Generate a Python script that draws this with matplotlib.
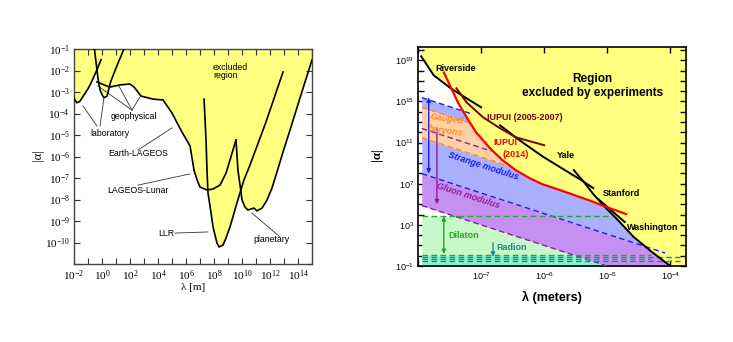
import numpy as np
import matplotlib
matplotlib.use("Agg")
import matplotlib.pyplot as plt
from matplotlib.ticker import LogLocator, NullFormatter

# ==================================================
# LEFT PANEL DATA  (log10 lambda [m], log10 |alpha|)
# ==================================================

lab1_x = [-2.0, -1.8, -1.6, -1.3, -1.0, -0.8, -0.43, -0.07]
lab1_y = [-3.3, -3.5, -3.45, -3.15, -2.85, -2.6, -2.07, -1.5]
lab2_x = [-0.55, -0.29, -0.14, 0.02, 0.14, 0.36, 0.62, 1.09, 1.6]
lab2_y = [-0.95, -2.36, -2.91, -3.14, -3.27, -3.19, -2.52, -1.74, -0.95]
geo_x = [-0.36, 0.14, 0.57, 1.29, 2.0, 2.29, 2.79, 3.64, 4.36]
geo_y = [-2.53, -2.67, -2.77, -2.67, -2.63, -2.77, -3.19, -3.33, -3.37]
earth_x = [4.36, 5.0, 5.71, 6.29, 6.43, 6.57]
earth_y = [-3.37, -3.98, -4.86, -5.51, -6.07, -6.63]
lunar_x = [6.57, 6.79, 7.0, 7.5, 7.93, 8.43, 8.86, 9.21, 9.57]
lunar_y = [-6.63, -7.09, -7.42, -7.56, -7.51, -7.33, -6.77, -6.02, -5.23]
planet_x = [9.57, 9.71, 9.86, 10.0, 10.21, 10.43, 10.64, 10.86, 11.07,
            11.43, 11.79, 12.14, 12.5, 12.93, 13.43, 14.14, 15.0]
planet_y = [-5.23, -6.63, -7.33, -8.02, -8.35, -8.49, -8.44, -8.40, -8.53,
            -8.40, -8.02, -7.47, -6.72, -5.79, -4.77, -3.28, -1.51]
llr_x = [7.29, 7.43, 7.5, 7.57, 7.79, 7.93, 8.21, 8.36, 8.64, 8.86, 9.14,
         9.64, 10.14, 10.57, 11.71, 12.93]
llr_y = [-3.33, -5.23, -6.63, -7.70, -8.63, -9.28, -10.02, -10.21, -10.12,
         -9.79, -9.28, -8.16, -7.09, -6.40, -4.40, -2.07]

left_labels = ["laboratory", "geophysical", "Earth-LAGEOS", "LAGEOS-Lunar", "LLR", "planetary"]
left_label_x = [0.57, 2.29, 2.57, 2.57, 4.57, 12.07]
left_label_y = [-4.91, -4.12, -5.88, -7.6, -9.56, -9.88]

# pointer segments: x0, y0, x1, y1
left_pointers = [
    (-0.36, -4.58, -1.36, -3.65), (-0.14, -4.58, 0.14, -3.28),
    (2.14, -3.84, -0.29, -2.72), (2.14, -3.84, 1.21, -2.72), (2.14, -3.84, 2.71, -3.23),
    (2.57, -5.70, 5.0, -4.67),
    (2.57, -7.33, 6.29, -6.81),
    (5.21, -9.56, 7.57, -9.51),
    (12.71, -9.74, 10.71, -8.63),
]

left_xtick_exps = list(range(-2, 16))
left_xlabel_exps = list(range(-2, 15, 2))
left_ytick_exps = list(range(-11, 0))
left_ylabel_exps = list(range(-10, 0))

# ==================================================
# RIGHT PANEL DATA  (log10 lambda [m], log10 |alpha|)
# ==================================================

river_x = [-7.95, -7.75, -7.48, -7.23, -7.0]
river_y = [19.4, 17.54, 16.28, 15.31, 14.44]
iupui07_x = [-7.39, -7.23, -6.97, -6.70, -6.45, -6.0]
iupui07_y = [16.28, 14.92, 13.47, 12.40, 11.52, 10.75]
iupui14_x = [-7.59, -7.48, -7.36, -7.23, -7.08, -6.86, -6.66, -6.45, -6.23,
             -6.03, -5.77, -5.52, -5.25, -5.05, -4.70]
iupui14_y = [17.83, 16.38, 14.83, 13.47, 12.01, 10.46, 9.29, 8.32, 7.54,
             6.96, 6.43, 5.89, 5.31, 4.83, 4.05]
yale_x = [-6.70, -6.39, -6.03, -5.72, -5.41, -5.22]
yale_y = [12.69, 11.23, 9.68, 8.51, 7.35, 6.57]
wash_x = [-5.53, -5.38, -5.22, -5.05, -4.83, -4.58, -4.31, -4.0, -3.9]
wash_y = [8.32, 7.25, 5.99, 4.83, 3.47, 1.82, 0.46, -1.0, -1.5]
stan_x = [-5.14, -4.72]
stan_y = [5.50, 3.27]

# theory bands: edges given at left and right end of the axis
band_x = [-7.95, -3.75]
blue_top_y = [15.4, 7.0]
blue_bot_y = [8.0, -0.4]
orange_top_y = [14.45, 6.05]
orange_bot_y = [11.5, 3.1]
purple_top_y = [12.4, 4.0]
purple_bot_y = [4.9, -3.5]
dilaton_top = 3.85
radion_top = 0.07
# where each dashed edge stops
blue_top_end = -7.15
blue_bot_end = -4.08
orange_top_end = -7.2
orange_bot_end = -6.6
purple_top_end = -6.84
purple_bot_end = -5.0
# horizontal dashed lines at the bottom: level, end, colour key
low_levels = [0.07, -0.15, -0.35, -0.55]
low_ends = [-4.3, -3.85, -4.3, -3.85]
low_kind = ["green", "teal", "green", "teal"]

right_xtick_exps = [-8, -7, -6, -5, -4]
right_xlabel_exps = [-7, -6, -5, -4]
right_ytick_exps = list(range(-1, 21))
right_ylabel_exps = [-1, 3, 7, 11, 15, 19]

# ==================================================
# HELPERS
# ==================================================

YELLOW = "#ffff80"
SANS = "Liberation Sans"
SERIF = "Liberation Serif"


def envelope(grid, curves, fill_value):
    env = np.full_like(grid, np.inf)
    for cx, cy in curves:
        cx = np.asarray(cx)
        inside = (grid >= cx.min()) & (grid <= cx.max())
        env = np.where(inside, np.minimum(env, np.interp(grid, cx, cy)), env)
    return np.where(np.isinf(env), fill_value, env)


def sci(e):
    return r"$\mathdefault{10^{%d}}$" % e


def p10(v):
    return 10.0 ** np.asarray(v, dtype=float)


fig = plt.figure(figsize=(7.33, 3.42), dpi=100)

# ==================================================
# LEFT PANEL
# ==================================================

ax = fig.add_axes([74 / 733, 78 / 342, 238 / 733, 215 / 342])
ax.set_xscale("log")
ax.set_yscale("log")
ax.set_xlim(1e-2, 1e15)
ax.set_ylim(1e-11, 1e-1)

left_curves = [(lab1_x, lab1_y), (lab2_x, lab2_y), (geo_x, geo_y), (earth_x, earth_y),
               (lunar_x, lunar_y), (planet_x, planet_y), (llr_x, llr_y)]
grid_l = np.linspace(-2, 15, 4000)
env_l = envelope(grid_l, left_curves, -12)
ax.fill_between(p10(grid_l), p10(env_l), 1.0, color=YELLOW, lw=0, zorder=1)

for cx, cy in left_curves:
    ax.plot(p10(cx), p10(cy), color="black", lw=1.2, zorder=3)

for x0, y0, x1, y1 in left_pointers:
    ax.plot(p10([x0, x1]), p10([y0, y1]), color="#333333", lw=0.6, zorder=2)

for lab, lx, ly in zip(left_labels, left_label_x, left_label_y):
    ax.text(10 ** lx, 10 ** ly, lab, ha="center", va="center", fontsize=6.3,
            family=SANS, zorder=4)
ax.text(10 ** 7.93, 10 ** -2.05, "excluded\nregion", ha="left", va="center",
        fontsize=6.3, family=SANS, linespacing=0.95, zorder=4)

ax.set_xticks(p10(left_xtick_exps))
ax.set_xticklabels([sci(e) if e in left_xlabel_exps else "" for e in left_xtick_exps])
ax.set_yticks(p10(left_ytick_exps))
ax.set_yticklabels([sci(e) if e in left_ylabel_exps else "" for e in left_ytick_exps])
ax.xaxis.set_minor_locator(plt.NullLocator())
ax.yaxis.set_minor_locator(plt.NullLocator())
ax.tick_params(direction="in", length=4, width=0.8, top=True, right=True,
               labelsize=8, labelfontfamily=SERIF, pad=3, colors="#333333",
               labelcolor="black")
for s in ax.spines.values():
    s.set_color("#444444")
    s.set_linewidth(1.0)

ax.text(0.5, -0.107, "λ [m]", transform=ax.transAxes, ha="center", va="center",
        fontsize=8, family=SERIF)
ax.text(-0.151, 0.507, "|α|", transform=ax.transAxes, ha="center", va="center",
        rotation=90, fontsize=9, family=SERIF)

# ==================================================
# RIGHT PANEL
# ==================================================

ax2 = fig.add_axes([418 / 733, 76 / 342, 268 / 733, 219 / 342])
ax2.set_xscale("log")
ax2.set_yscale("log")
x0r, x1r = -7.94, -3.75
ax2.set_xlim(10 ** x0r, 10 ** x1r)
ax2.set_ylim(1e-1, 10 ** 20.3)

grid_r = np.linspace(x0r, x1r, 2000)
env_r = envelope(grid_r, [(river_x, river_y), (iupui14_x, iupui14_y), (wash_x, wash_y)], -3)
ax2.fill_between(p10(grid_r), p10(env_r), 1e22, color=YELLOW, lw=0, zorder=1)

bt = np.interp(grid_r, band_x, blue_top_y)
bb = np.interp(grid_r, band_x, blue_bot_y)
ot = np.interp(grid_r, band_x, orange_top_y)
ob = np.interp(grid_r, band_x, orange_bot_y)
pb = np.interp(grid_r, band_x, purple_bot_y)


def band(lo, hi, color):
    top = np.minimum(hi, env_r)
    ax2.fill_between(p10(grid_r), p10(lo), p10(top), where=top > lo,
                     interpolate=True, color=color, lw=0, zorder=2)


band(bb, bt, "#aab0ff")
band(ob, ot, "#ffd2a6")
band(pb, bb, "#c690f2")
band(np.full_like(grid_r, -3), np.minimum(dilaton_top, pb), "#c8f8c8")
band(np.full_like(grid_r, -3), np.minimum(radion_top, pb), "#8ef0d2")

dash = dict(lw=1.0, dashes=(4, 2.5), zorder=3)


def edge(ys, end, color):
    xs = [x0r, end]
    ax2.plot(p10(xs), p10(np.interp(xs, band_x, ys)), color=color, **dash)


edge(blue_top_y, blue_top_end, "#1c1cf0")
edge(blue_bot_y, blue_bot_end, "#1c1cf0")
edge(orange_top_y, orange_top_end, "#ff8c1a")
edge(orange_bot_y, orange_bot_end, "#ff8c1a")
edge(purple_top_y, purple_top_end, "#8a1f9a")
edge(purple_bot_y, purple_bot_end, "#8a1f9a")
ax2.plot(p10([x0r, -4.94]), p10([dilaton_top, dilaton_top]), color="#22aa22", **dash)
low_colors = {"green": "#22aa22", "teal": "#178c8c"}
for lv, en, kd in zip(low_levels, low_ends, low_kind):
    ax2.plot(p10([x0r, en]), p10([lv, lv]), color=low_colors[kd], **dash)

ax2.plot(p10(river_x), p10(river_y), color="black", lw=1.4, zorder=4)
ax2.plot(p10(yale_x), p10(yale_y), color="black", lw=1.4, zorder=4)
ax2.plot(p10(wash_x), p10(wash_y), color="black", lw=1.4, zorder=4)
ax2.plot(p10(stan_x), p10(stan_y), color="black", lw=1.4, zorder=4)
ax2.plot(p10(iupui07_x), p10(iupui07_y), color="#7a0000", lw=1.4, zorder=4)
ax2.plot(p10(iupui14_x), p10(iupui14_y), color="#ff0000", lw=1.6, zorder=4)


def arrow(lx, y0, y1, color, style):
    ax2.annotate("", xy=(10 ** lx, 10 ** y1), xytext=(10 ** lx, 10 ** y0),
                 arrowprops=dict(arrowstyle=style, color=color, lw=1.0,
                                 shrinkA=0, shrinkB=0, mutation_scale=6), zorder=5)


arrow(-7.83, 15.4, 8.0, "#1c1cf0", "<|-|>")
arrow(-7.70, 12.4, 5.0, "#8a1f9a", "-|>")
arrow(-7.59, 3.85, 0.17, "#22aa22", "<|-|>")
arrow(-6.81, 1.25, -0.1, "#178c8c", "-|>")

bold = dict(fontsize=6.5, family=SANS, fontweight="bold", ha="center", va="center", zorder=6)
ax2.text(10 ** -7.41, 10 ** 18.22, "Riverside", color="black", **bold)
ax2.text(10 ** -5.23, 10 ** 16.5, "Region\nexcluded by experiments", color="black",
         linespacing=1.2, **{**bold, "fontsize": 8.5})
ax2.text(10 ** -6.30, 10 ** 13.47, "IUPUI (2005-2007)", color="#7a0000", **bold)
ax2.text(10 ** -6.62, 10 ** 11.0, "IUPUI", color="#ff0000", **bold)
ax2.text(10 ** -6.45, 10 ** 9.85, "(2014)", color="#ff0000", **bold)
ax2.text(10 ** -5.66, 10 ** 9.78, "Yale", color="black", **bold)
ax2.text(10 ** -4.77, 10 ** 6.09, "Stanford", color="black", **bold)
ax2.text(10 ** -4.28, 10 ** 2.79, "Washington", color="black", **bold)
ax2.text(10 ** -7.55, 10 ** 12.69, "Gauged\nbaryons", color="#ff8c28", style="italic",
         rotation=-8, linespacing=1.5, **bold)
ax2.text(10 ** -6.97, 10 ** 8.71, "Strange modulus", color="#1c1cf0", style="italic",
         rotation=-18, **bold)
ax2.text(10 ** -7.2, 10 ** 5.8, "Gluon modulus", color="#8a1f9a", style="italic",
         rotation=-18, **bold)
ax2.text(10 ** -7.28, 10 ** 2.01, "Dilaton", color="#22aa22", **bold)
ax2.text(10 ** -6.52, 10 ** 0.84, "Radion", color="#178c8c", **bold)

ax2.set_xticks(p10(right_xtick_exps))
ax2.set_xticklabels([sci(e) if e in right_xlabel_exps else "" for e in right_xtick_exps])
ax2.xaxis.set_minor_locator(LogLocator(base=10, subs=np.arange(2, 10)))
ax2.xaxis.set_minor_formatter(NullFormatter())
ax2.set_yticks(p10(right_ytick_exps))
ax2.set_yticklabels([sci(e) if e in right_ylabel_exps else "" for e in right_ytick_exps])
ax2.yaxis.set_minor_locator(plt.NullLocator())
ax2.tick_params(which="major", direction="in", length=4, width=1.0, top=True, right=True,
                labelsize=6.5, labelfontfamily=SANS, pad=3)
ax2.tick_params(which="minor", direction="in", length=2, width=0.7, top=False)
for s in ax2.spines.values():
    s.set_linewidth(1.2)

ax2.text(0.5, -0.142, "λ (meters)", transform=ax2.transAxes, ha="center", va="center",
         fontsize=9, family=SANS, fontweight="bold")
ax2.text(-0.153, 0.507, "|α|", transform=ax2.transAxes, ha="center", va="center",
         rotation=90, fontsize=9, family=SERIF, fontweight="bold")

fig.savefig("out.png", dpi=100)
